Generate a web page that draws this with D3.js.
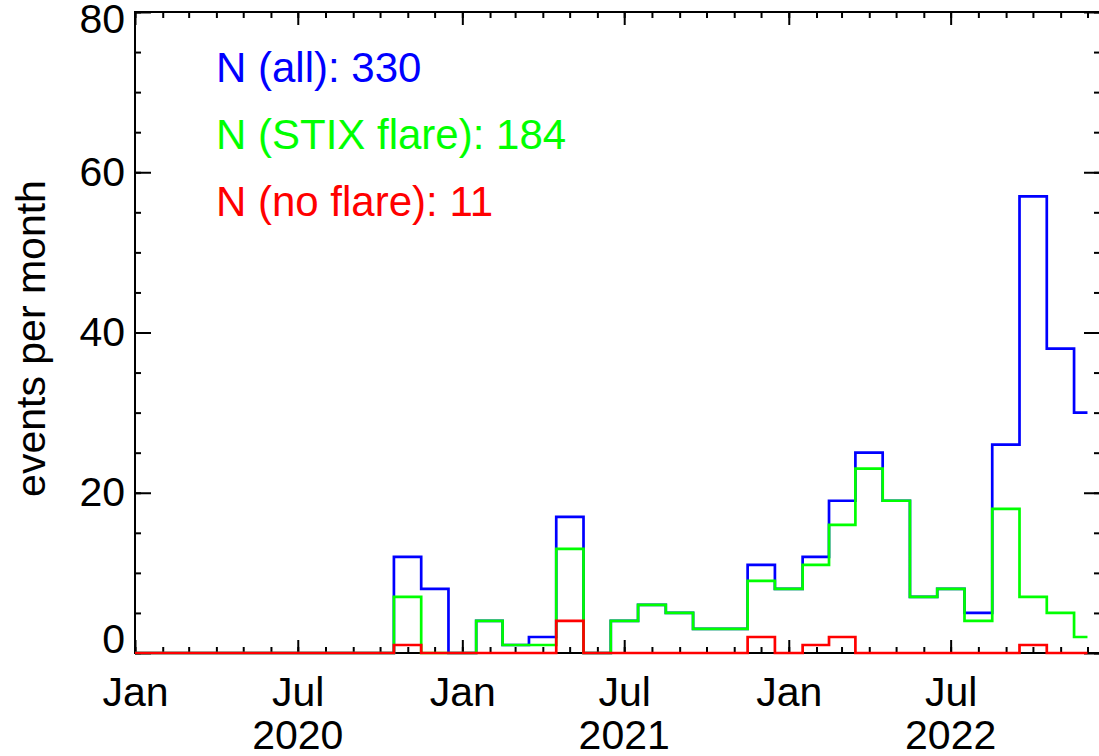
<!DOCTYPE html>
<html>
<head>
<meta charset="utf-8">
<script src="https://cdn.jsdelivr.net/npm/d3@7"></script>
<style>
  html, body { margin: 0; padding: 0; background: #fff; }
  svg { display: block; }
  text { font-family: "Liberation Sans", Arial, Helvetica, sans-serif; }
</style>
</head>
<body>
<svg id="chart" width="1099" height="756"></svg>
<script>
// Monthly event counts, Jan 2020 .. Dec 2022 (one value per month start)
const monthStarts = d3.utcMonth.range(new Date(Date.UTC(2020, 0, 1)), new Date(Date.UTC(2023, 0, 1)));

const allEvents = [
  0, 0, 0, 0, 0, 0, 0, 0, 0, 0, 12, 8,
  0, 4, 1, 2, 17, 0, 4, 6, 5, 3, 3, 11,
  8, 12, 19, 25, 19, 7, 8, 5, 26, 57, 38, 30
];
const stixFlare = [
  0, 0, 0, 0, 0, 0, 0, 0, 0, 0, 7, 0,
  0, 4, 1, 1, 13, 0, 4, 6, 5, 3, 3, 9,
  8, 11, 16, 23, 19, 7, 8, 4, 18, 7, 5, 2
];
const noFlare = [
  0, 0, 0, 0, 0, 0, 0, 0, 0, 0, 1, 0,
  0, 0, 0, 0, 4, 0, 0, 0, 0, 0, 0, 2,
  0, 1, 2, 0, 0, 0, 0, 0, 0, 1, 0, 0
];

const seriesNames = ["N (all)", "N (STIX flare)", "N (no flare)"];
const seriesColors = ["#0000ff", "#00ff00", "#ff0000"];
const yTickValues = [0, 20, 40, 60, 80];
const yMinorValues = d3.range(0, 81, 5);
const yearLabels = ["2020", "2021", "2022"];
const yTitle = "events per month";

// Plot frame
const plotLeft = 135, plotRight = 1100, plotTop = 12, plotBottom = 653;
const svg = d3.select("#chart");

const x = d3.scaleUtc()
  .domain([new Date(Date.UTC(2020, 0, 1)), new Date(Date.UTC(2022, 11, 15))])
  .range([plotLeft, plotRight]);
const y = d3.scaleLinear().domain([0, 80]).range([plotBottom, plotTop]);

const majorMonths = d3.utcMonth.every(6).range(x.domain()[0], x.domain()[1]);
const allMonths = d3.utcMonth.range(x.domain()[0], x.domain()[1]);

const FONT = 41;

function styleAxis(g) {
  g.select(".domain").remove();
  g.selectAll("line").attr("stroke", "#000").attr("stroke-width", 2);
  g.selectAll("text").attr("font-size", FONT).attr("fill", "#000")
    .attr("font-family", "\"Liberation Sans\", Arial, Helvetica, sans-serif");
}

// bottom axis: minor monthly ticks, major Jan/Jul ticks with month names
svg.append("g").attr("transform", `translate(0,${plotBottom})`)
  .call(d3.axisBottom(x).tickValues(allMonths).tickSizeInner(-6).tickSizeOuter(0).tickFormat(""))
  .call(styleAxis);
svg.append("g").attr("transform", `translate(0,${plotBottom})`)
  .call(d3.axisBottom(x).tickValues(majorMonths).tickSizeInner(-13).tickSizeOuter(0)
    .tickPadding(24).tickFormat(d3.utcFormat("%b")))
  .call(styleAxis);

// top axis mirrors the bottom ticks
svg.append("g").attr("transform", `translate(0,${plotTop})`)
  .call(d3.axisTop(x).tickValues(allMonths).tickSizeInner(-6).tickSizeOuter(0).tickFormat(""))
  .call(styleAxis);
svg.append("g").attr("transform", `translate(0,${plotTop})`)
  .call(d3.axisTop(x).tickValues(majorMonths).tickSizeInner(-13).tickSizeOuter(0).tickFormat(""))
  .call(styleAxis);

// year labels under each July tick
const julys = majorMonths.filter(d => d.getUTCMonth() === 6);
svg.append("g").selectAll("text").data(julys).join("text")
  .attr("x", d => x(d))
  .attr("y", 749)
  .attr("text-anchor", "middle")
  .attr("font-size", FONT)
  .text((d, i) => yearLabels[i]);

// left axis
svg.append("g").attr("transform", `translate(${plotLeft},0)`)
  .call(d3.axisLeft(y).tickValues(yMinorValues).tickSizeInner(-6).tickSizeOuter(0).tickFormat(""))
  .call(styleAxis);
const yAxisG = svg.append("g").attr("transform", `translate(${plotLeft},0)`)
  .call(d3.axisLeft(y).tickValues(yTickValues).tickSizeInner(-16).tickSizeOuter(0).tickPadding(10))
  .call(styleAxis);
// keep the end labels inside the frame height
yAxisG.selectAll(".tick text")
  .attr("y", d => d === 80 ? 7 : (d === 0 ? -14 : 0));

// right axis
svg.append("g").attr("transform", `translate(${plotRight},0)`)
  .call(d3.axisRight(y).tickValues(yMinorValues).tickSizeInner(-6).tickSizeOuter(0).tickFormat(""))
  .call(styleAxis);
svg.append("g").attr("transform", `translate(${plotRight},0)`)
  .call(d3.axisRight(y).tickValues(yTickValues).tickSizeInner(-16).tickSizeOuter(0).tickFormat(""))
  .call(styleAxis);

// frame
svg.append("rect")
  .attr("x", plotLeft).attr("y", plotTop)
  .attr("width", plotRight - plotLeft).attr("height", plotBottom - plotTop)
  .attr("fill", "none").attr("stroke", "#000").attr("stroke-width", 2);

// y title
svg.append("text")
  .attr("transform", `translate(45,${(plotTop + plotBottom) / 2 + 6}) rotate(-90)`)
  .attr("text-anchor", "middle")
  .attr("font-size", FONT)
  .text(yTitle);

// step histograms
const step = d3.line()
  .x((d, i) => x(monthStarts[i]))
  .y(d => y(d))
  .curve(d3.curveStep);

const series = [allEvents, stixFlare, noFlare];
svg.append("g").selectAll("path").data(series).join("path")
  .attr("d", d => step(d))
  .attr("fill", "none")
  .attr("stroke", (d, i) => seriesColors[i])
  .attr("stroke-width", 2.7);

// legend with totals
svg.append("g").selectAll("text").data(series).join("text")
  .attr("x", 216)
  .attr("y", (d, i) => 82 + i * 67)
  .attr("font-size", 42)
  .attr("fill", (d, i) => seriesColors[i])
  .text((d, i) => `${seriesNames[i]}: ${d3.sum(d)}`);
</script>
</body>
</html>
